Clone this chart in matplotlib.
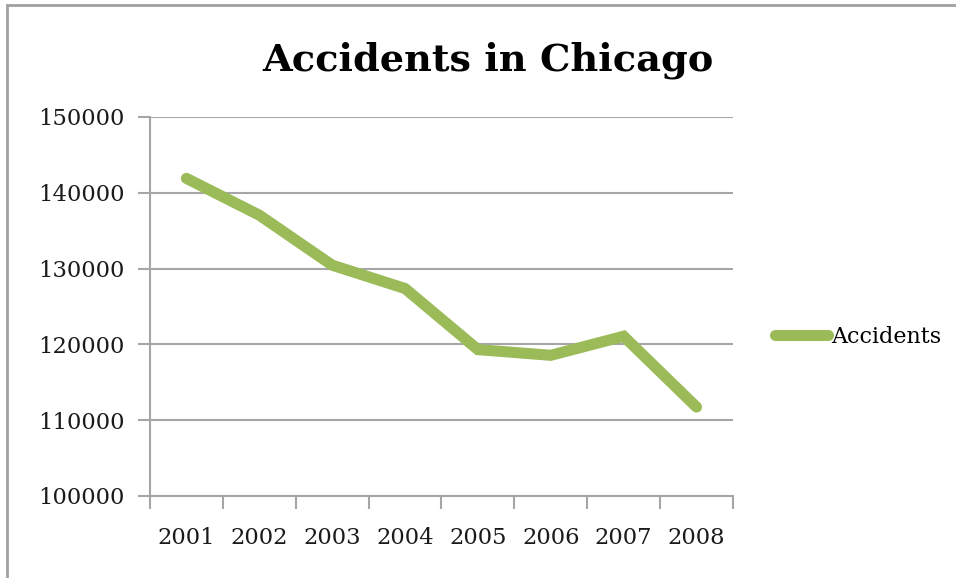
import numpy as np
import matplotlib.pyplot as plt
from matplotlib.patches import Rectangle

years = ['2001', '2002', '2003', '2004', '2005', '2006', '2007', '2008']
accidents = [141900, 137050, 130450, 127370, 119310, 118560, 121070, 111730]
y_ticks = [100000, 110000, 120000, 130000, 140000, 150000]

green = '#9bbb59'
grid_gray = '#a6a6a6'

plt.rcParams['font.family'] = 'DejaVu Serif'

fig = plt.figure(figsize=(9.56, 5.78), dpi=100)
ax = fig.add_axes([0.1569, 0.1419, 0.7667 - 0.1569, 0.7976 - 0.1419])

x = np.arange(len(years))
line, = ax.plot(x, accidents, color=green, lw=8, solid_capstyle='round',
                solid_joinstyle='miter', label='Accidents', zorder=3)

ax.set_xlim(-0.5, len(years) - 0.5)
ax.set_ylim(100000, 150000)
ax.set_yticks(y_ticks)
ax.set_yticklabels([str(v) for v in y_ticks], fontsize=16.3, color='#1a1a1a')
ax.yaxis.grid(True, color=grid_gray, lw=1.5)
ax.set_axisbelow(True)

# category boundaries get the tick marks, labels sit in the middle
ax.set_xticks(np.arange(-0.5, len(years), 1.0))
ax.set_xticklabels([])
ax.set_xticks(x, minor=True)
ax.set_xticklabels(years, minor=True, fontsize=16.3, color='#1a1a1a')
ax.tick_params(axis='x', which='major', length=9, width=1.5, color=grid_gray, direction='out')
ax.tick_params(axis='x', which='minor', length=0, pad=22)
ax.tick_params(axis='y', length=9, width=1.5, color=grid_gray, pad=9)

for side in ['top', 'right']:
    ax.spines[side].set_visible(False)
for side in ['left', 'bottom']:
    ax.spines[side].set_color(grid_gray)
    ax.spines[side].set_linewidth(1.5)

fig.text(0.5105, 0.896, 'Accidents in Chicago', ha='center', va='center',
         fontsize=27.5, fontweight='bold', color='black')

fig.legend(handles=[line], loc='center left', bbox_to_anchor=(0.799, 0.417),
           frameon=False, fontsize=16, handlelength=2.4, handletextpad=0.15,
           borderpad=0)

# outer chart frame
fig.add_artist(Rectangle((7 / 956, -0.1), 1.2, 1.1 - 5 / 578, transform=fig.transFigure,
                         fill=False, edgecolor='#a0a0a0', lw=2))

fig.savefig('out.png', dpi=100, facecolor='white')
